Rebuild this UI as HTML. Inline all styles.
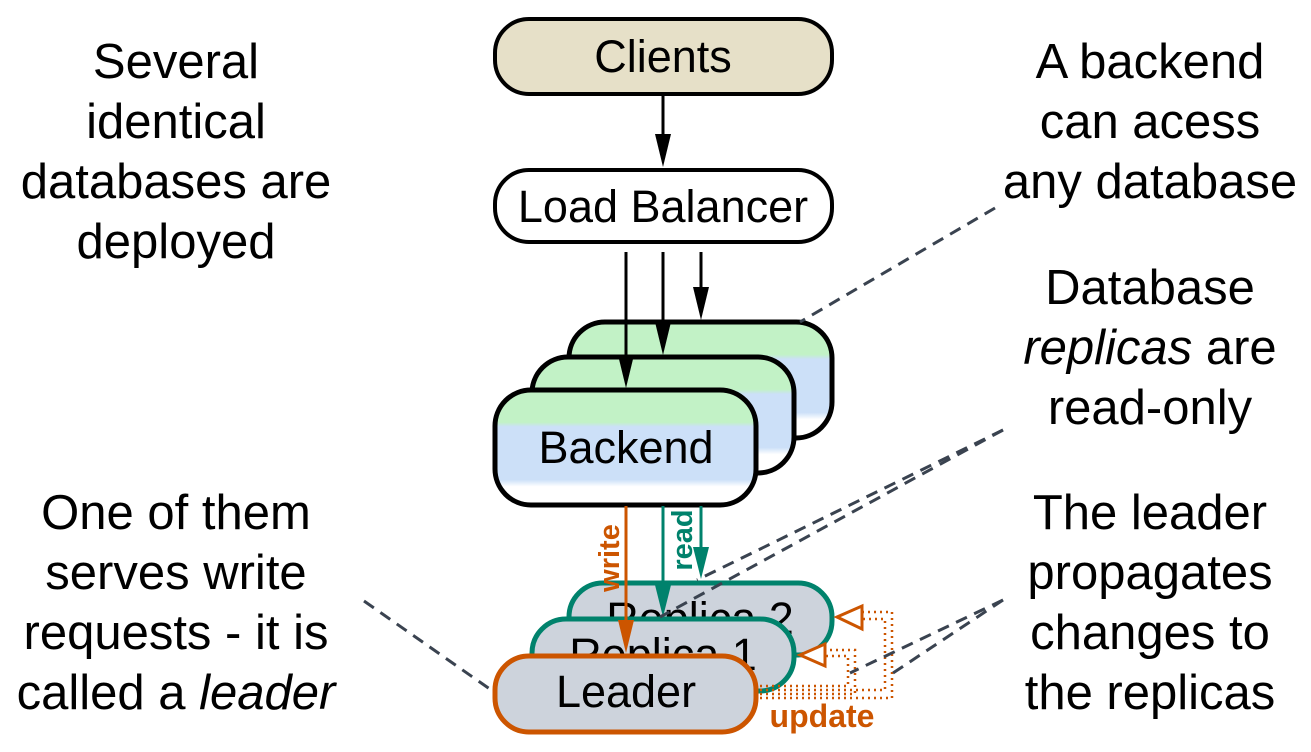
<!DOCTYPE html>
<html><head><meta charset="utf-8"><style>
html,body{margin:0;padding:0;background:#fff;width:1311px;height:752px;overflow:hidden}
svg{display:block}
text{font-family:"Liberation Sans",sans-serif}
</style></head><body>
<svg width="1311" height="752" viewBox="0 0 1311 752" xmlns="http://www.w3.org/2000/svg">
<defs>
<linearGradient id="bg" x1="0" y1="0" x2="0" y2="1">
<stop offset="0" stop-color="#c2f2c6"/><stop offset="0.28" stop-color="#c2f2c6"/>
<stop offset="0.32" stop-color="#cce0f8"/><stop offset="0.78" stop-color="#cce0f8"/>
<stop offset="0.84" stop-color="#fff"/><stop offset="1" stop-color="#fff"/>
</linearGradient>
</defs>
<g font-size="49" text-anchor="middle" fill="#000">
<text x="176" y="78">Several</text>
<text x="176" y="138">identical</text>
<text x="176" y="198">databases are</text>
<text x="176" y="258">deployed</text>
<text x="1150" y="78">A backend</text>
<text x="1150" y="138">can acess</text>
<text x="1150" y="198">any database</text>
<text x="1150" y="304">Database</text>
<text x="1150" y="364"><tspan font-style="italic">replicas</tspan> are</text>
<text x="1150" y="424">read-only</text>
<text x="176" y="529">One of them</text>
<text x="176" y="589">serves write</text>
<text x="176" y="649">requests - it is</text>
<text x="176" y="709">called a <tspan font-style="italic">leader</tspan></text>
<text x="1150" y="529">The leader</text>
<text x="1150" y="589">propagates</text>
<text x="1150" y="649">changes to</text>
<text x="1150" y="709">the replicas</text>
</g>
<rect x="495" y="19" width="337" height="75" rx="34" fill="#e6e0c8" stroke="#000" stroke-width="4"/>
<text x="663" y="72" font-size="45" text-anchor="middle">Clients</text>
<line x1="663" y1="94" x2="663" y2="140" stroke="#000" stroke-width="3"/>
<polygon points="655,134 671,134 663,167" fill="#000"/>
<rect x="495" y="170" width="337" height="72" rx="34" fill="#fff" stroke="#000" stroke-width="4"/>
<text x="663" y="222" font-size="45" text-anchor="middle">Load Balancer</text>
<rect x="569" y="322" width="263" height="116" rx="36" fill="url(#bg)" stroke="#000" stroke-width="5"/>
<rect x="532" y="357" width="262" height="116" rx="36" fill="url(#bg)" stroke="#000" stroke-width="5"/>
<rect x="495" y="390" width="261" height="115" rx="36" fill="url(#bg)" stroke="#000" stroke-width="5"/>
<text x="626" y="463" font-size="45" text-anchor="middle">Backend</text>
<g stroke="#000" stroke-width="3">
<line x1="626" y1="252" x2="626" y2="360"/>
<line x1="663" y1="252" x2="663" y2="325"/>
<line x1="701" y1="252" x2="701" y2="290"/>
</g>
<g fill="#000">
<polygon points="618,355 634,355 626,388"/>
<polygon points="655,322 671,322 663,355"/>
<polygon points="693,287 709,287 701,320"/>
</g>
<rect x="569" y="583" width="263" height="72" rx="34" fill="#cdd3dc" stroke="#00826c" stroke-width="5"/>
<text x="700" y="634" font-size="45" text-anchor="middle">Replica 2</text>
<rect x="532" y="619" width="262" height="72" rx="34" fill="#cdd3dc" stroke="#00826c" stroke-width="5"/>
<text x="663" y="670" font-size="45" text-anchor="middle">Replica 1</text>
<rect x="495" y="656" width="261" height="76" rx="34" fill="#cdd3dc" stroke="#cc5500" stroke-width="5"/>
<text x="626" y="707" font-size="45" text-anchor="middle">Leader</text>
<line x1="626" y1="506" x2="626" y2="625" stroke="#cc5500" stroke-width="3"/>
<polygon points="618,620 634,620 626,653" fill="#cc5500"/>
<text transform="translate(619,558) rotate(-90)" font-size="29" font-weight="bold" fill="#cc5500" text-anchor="middle">write</text>
<line x1="663" y1="506" x2="663" y2="590" stroke="#00826c" stroke-width="3"/>
<polygon points="655,585 671,585 663,617" fill="#00826c"/>
<line x1="701" y1="506" x2="701" y2="552" stroke="#00826c" stroke-width="3"/>
<polygon points="693,547 709,547 701,579" fill="#00826c"/>
<text transform="translate(692,540) rotate(-90)" font-size="29" font-weight="bold" fill="#00826c" text-anchor="middle">read</text>
<g fill="none" stroke="#cc5500" stroke-width="2.5" stroke-dasharray="2 4">
<path d="M760,690 H885 V619 H862"/>
<path d="M760,698 H892 V612 H862"/>
<path d="M760,686 H848 V656 H825"/>
<path d="M760,694 H855 V650 H825"/>
</g>
<polygon points="837,617 862,606 862,629" fill="#fff" stroke="#cc5500" stroke-width="3"/>
<polygon points="800,655 825,644 825,666" fill="#fff" stroke="#cc5500" stroke-width="3"/>
<text x="822" y="727" font-size="32" font-weight="bold" fill="#cc5500" text-anchor="middle">update</text>
<g stroke="#3a4350" stroke-width="3" stroke-dasharray="12 8" fill="none">
<line x1="995" y1="208" x2="800" y2="322"/>
<line x1="1003" y1="430" x2="697" y2="580"/>
<line x1="1003" y1="430" x2="660" y2="617"/>
<line x1="1003" y1="600" x2="850" y2="673"/>
<line x1="1003" y1="600" x2="887" y2="677"/>
<line x1="364" y1="601" x2="494" y2="692"/>
</g>
</svg>
</body></html>
